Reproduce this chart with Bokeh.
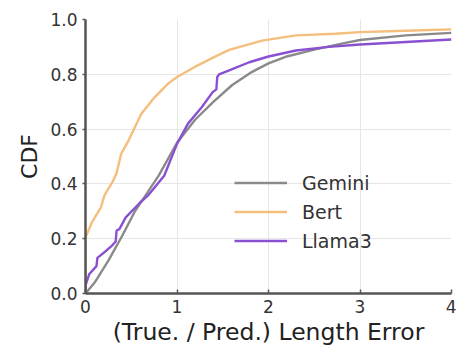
from bokeh.plotting import figure
from bokeh.models import Range1d, Legend, LegendItem, FixedTicker
from bokeh.embed import file_html
from bokeh.resources import INLINE

# Data (x = length error, y = CDF)
gemini_x = [0.0, 0.1, 0.25, 0.4, 0.54, 0.7, 0.8, 1.0, 1.2, 1.4, 1.6, 1.8, 2.0, 2.2, 2.5, 2.8, 3.0, 3.5, 4.0]
gemini_y = [0.0, 0.04, 0.12, 0.21, 0.30, 0.38, 0.43, 0.55, 0.635, 0.70, 0.76, 0.805, 0.84, 0.865, 0.89, 0.912, 0.925, 0.942, 0.951]

bert_x = [0.0, 0.0, 0.02, 0.07, 0.17, 0.19, 0.21, 0.30, 0.34, 0.39, 0.47, 0.61, 0.755, 0.90, 1.0, 1.19, 1.4, 1.57, 1.93, 2.3, 2.73, 3.0, 3.5, 4.0]
bert_y = [0.0, 0.205, 0.22, 0.26, 0.315, 0.34, 0.36, 0.41, 0.44, 0.51, 0.558, 0.656, 0.716, 0.765, 0.79, 0.826, 0.862, 0.889, 0.923, 0.942, 0.948, 0.954, 0.959, 0.964]

llama_x = [0.0, 0.0, 0.04, 0.12, 0.13, 0.23, 0.29, 0.33, 0.34, 0.37, 0.44, 0.60, 0.69, 0.86, 1.0, 1.12, 1.27, 1.39, 1.43, 1.44, 1.46, 1.57, 1.79, 2.0, 2.3, 2.66, 3.0, 3.5, 4.0]
llama_y = [0.0, 0.03, 0.07, 0.10, 0.13, 0.157, 0.175, 0.19, 0.23, 0.235, 0.278, 0.333, 0.36, 0.43, 0.546, 0.62, 0.68, 0.735, 0.745, 0.79, 0.80, 0.814, 0.844, 0.865, 0.887, 0.90, 0.909, 0.918, 0.927]

x_ticks = [0, 1, 2, 3, 4]
y_ticks = [0.0, 0.2, 0.4, 0.6, 0.8, 1.0]
series_names = ["Gemini", "Bert", "Llama3"]
series_colors = ["#8a8a8a", "#f5be7c", "#8a50d2"]

FONT = "DejaVu Sans"

p = figure(width=456, height=349, output_backend="svg", toolbar_location=None,
           x_range=Range1d(0, 4), y_range=Range1d(0, 1.0),
           min_border_left=85, min_border_right=5, min_border_top=19, min_border_bottom=56)
p.outline_line_color = None
p.background_fill_color = "white"

r1 = p.line(gemini_x, gemini_y, line_color=series_colors[0], line_width=2.4)
r2 = p.line(bert_x, bert_y, line_color=series_colors[1], line_width=2.4)
r3 = p.line(llama_x, llama_y, line_color=series_colors[2], line_width=2.4)

for ax in (p.xaxis[0], p.yaxis[0]):
    ax.axis_line_color = "#555555"
    ax.axis_line_width = 2.5
    ax.major_tick_line_color = "#555555"
    ax.major_tick_line_width = 1.5
    ax.minor_tick_line_color = None
    ax.major_label_text_font = FONT
    ax.major_label_text_font_size = "17px"
    ax.major_label_text_color = "#333333"
    ax.axis_label_text_font = FONT
    ax.axis_label_text_font_style = "normal"
    ax.axis_label_text_color = "#222222"

p.xaxis.axis_label_text_font_size = "23.5px"
p.yaxis.axis_label_text_font_size = "22px"
p.xaxis.ticker = FixedTicker(ticks=x_ticks)
p.yaxis.ticker = FixedTicker(ticks=y_ticks)
p.xaxis.major_label_overrides = {t: str(t) for t in x_ticks}
p.yaxis.major_label_overrides = {t: f"{t:.1f}" for t in y_ticks}
p.xaxis.major_tick_in = 4
p.xaxis.major_tick_out = 0
p.yaxis.major_tick_in = 0
p.yaxis.major_tick_out = 3
p.xaxis.major_label_standoff = 6
p.yaxis.major_label_standoff = 5
p.xaxis.axis_label = "(True. / Pred.) Length Error"
p.yaxis.axis_label = "CDF"
p.xaxis.axis_label_standoff = 2
p.yaxis.axis_label_standoff = 5

p.xgrid.grid_line_color = "#e6e6e6"
p.ygrid.grid_line_color = "#e6e6e6"
p.xgrid.grid_line_width = 1
p.ygrid.grid_line_width = 1

legend = Legend(items=[LegendItem(label=series_names[0], renderers=[r1]),
                       LegendItem(label=series_names[1], renderers=[r2]),
                       LegendItem(label=series_names[2], renderers=[r3])],
                location=(149, 38))
legend.label_text_font = FONT
legend.label_text_font_size = "19px"
legend.label_text_color = "#333333"
legend.glyph_width = 53
legend.glyph_height = 29
legend.label_height = 29
legend.spacing = 0
legend.padding = 0
legend.margin = 0
legend.label_standoff = 15
legend.border_line_alpha = 0
legend.background_fill_alpha = 0
p.add_layout(legend, "center")

open("out.html", "w").write(file_html(p, INLINE))
